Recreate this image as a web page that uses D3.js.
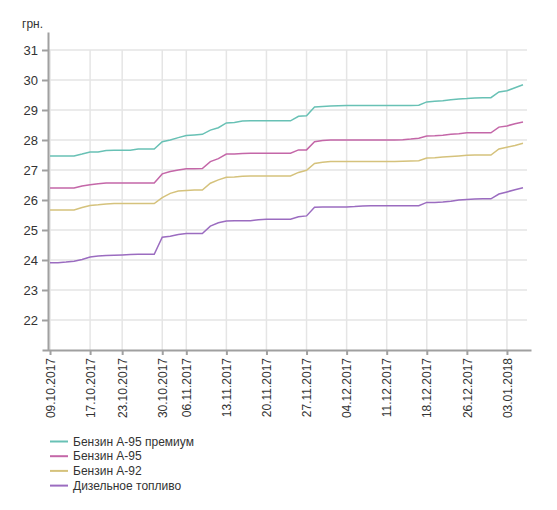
<!DOCTYPE html>
<html>
<head>
<meta charset="utf-8">
<script src="https://cdn.jsdelivr.net/npm/d3@7"></script>
<style>
  body { margin: 0; background: #fff; }
  text { font-family: "Liberation Sans", Arial, sans-serif; fill: #333; }
  .axis path, .axis line { stroke: #a0a0a0; stroke-width: 2; }
  .grid line { stroke: #e5e5e5; stroke-width: 1.5; }
  .line { fill: none; stroke-width: 1.5; }
</style>
</head>
<body>
<div id="chart"></div>
<script>
//data
var dates = ["09.10.2017","10.10.2017","11.10.2017","12.10.2017","13.10.2017","17.10.2017","18.10.2017","19.10.2017","20.10.2017",
  "23.10.2017","24.10.2017","25.10.2017","26.10.2017","27.10.2017","30.10.2017","31.10.2017","01.11.2017",
  "06.11.2017","07.11.2017","08.11.2017","09.11.2017","10.11.2017","13.11.2017","14.11.2017","15.11.2017","16.11.2017","17.11.2017",
  "20.11.2017","21.11.2017","22.11.2017","23.11.2017","24.11.2017","27.11.2017","28.11.2017","29.11.2017","30.11.2017","01.12.2017",
  "04.12.2017","05.12.2017","06.12.2017","07.12.2017","08.12.2017","11.12.2017","12.12.2017","13.12.2017","14.12.2017","15.12.2017",
  "18.12.2017","19.12.2017","20.12.2017","21.12.2017","22.12.2017","26.12.2017","27.12.2017","28.12.2017","29.12.2017",
  "02.01.2018","03.01.2018","04.01.2018","05.01.2018"];

var tickDates = ["09.10.2017","17.10.2017","23.10.2017","30.10.2017","06.11.2017","13.11.2017","20.11.2017",
  "27.11.2017","04.12.2017","11.12.2017","18.12.2017","26.12.2017","03.01.2018"];

var yTicks = [22, 23, 24, 25, 26, 27, 28, 29, 30, 31];

var a95premium = [27.47,27.47,27.47,27.47,27.53,27.6,27.6,27.65,27.66,27.66,27.66,27.7,27.7,27.7,
  27.94,28.0,28.08,28.15,28.17,28.19,28.33,28.41,28.57,28.58,28.63,
  28.64,28.64,28.64,28.64,28.64,28.64,
  28.79,28.81,29.1,29.12,29.13,29.14,
  29.15,29.15,29.15,29.15,29.15,29.15,29.15,29.15,29.15,
  29.16,29.27,29.29,29.31,29.34,29.37,29.38,29.4,29.41,29.41,29.6,29.64,29.74,29.84];

var a95 = [26.4,26.4,26.4,26.4,26.47,26.51,26.54,26.57,26.57,26.57,26.57,26.57,26.57,26.57,
  26.87,26.95,27.0,27.04,27.04,27.05,27.28,27.38,27.53,27.53,27.55,
  27.56,27.56,27.56,27.56,27.56,27.56,
  27.67,27.67,27.94,27.98,
  28.0,28.0,28.0,28.0,28.0,28.0,28.0,28.0,28.0,
  28.01,28.03,28.06,28.13,28.14,28.16,28.19,28.21,
  28.24,28.24,28.24,28.24,28.43,28.47,28.54,28.6];

var a92 = [25.67,25.67,25.67,25.67,25.75,25.82,25.84,25.87,25.88,25.88,25.88,25.88,25.88,25.88,
  26.08,26.22,26.3,26.32,26.33,26.33,26.56,26.67,26.76,26.77,26.79,
  26.8,26.8,26.8,26.8,26.8,26.8,
  26.92,26.99,27.22,27.26,
  27.28,27.28,27.28,27.28,27.28,27.28,27.28,27.28,27.28,
  27.29,27.3,27.31,27.4,27.41,27.43,27.45,27.47,27.49,
  27.5,27.5,27.5,27.7,27.76,27.82,27.89];

var diesel = [23.91,23.91,23.93,23.96,24.02,24.1,24.13,24.15,24.16,24.17,24.18,24.19,24.19,24.19,
  24.76,24.79,24.85,24.88,24.88,24.88,25.13,25.24,25.3,25.31,25.31,25.31,
  25.34,25.36,25.36,25.36,25.36,
  25.44,25.47,25.76,25.77,25.77,25.77,25.77,25.78,25.8,
  25.81,25.81,25.81,25.81,25.81,25.81,25.81,
  25.92,25.92,25.93,25.96,26.0,26.02,26.03,26.04,26.04,
  26.2,26.27,26.34,26.41];

var seriesNames = ["Бензин А-95 премиум", "Бензин А-95", "Бензин А-92", "Дизельное топливо"];
var seriesValues = [a95premium, a95, a92, diesel];
var colors = ["#68c1b5", "#c467a8", "#d5c27c", "#9b6cc0"];

var width = 557, height = 510;

var svg = d3.select("#chart").append("svg")
  .attr("width", width)
  .attr("height", height);

//scales
var xScale = d3.scalePoint()
  .domain(dates)
  .range([42, 531])
  .padding(1);

var yScale = d3.scaleLinear()
  .domain([21, 31.6])
  .range([350, 32]);

var plotLeft = 48, plotRight = 527;

//grid lines
var grid = svg.append("g").attr("class", "grid");

grid.selectAll(".hgrid")
  .data(yTicks)
.enter().append("line")
  .attr("x1", plotLeft)
  .attr("x2", plotRight)
  .attr("y1", function(d) { return yScale(d); })
  .attr("y2", function(d) { return yScale(d); });

grid.selectAll(".vgrid")
  .data(tickDates)
.enter().append("line")
  .attr("x1", function(d) { return xScale(d); })
  .attr("x2", function(d) { return xScale(d); })
  .attr("y1", yScale(31))
  .attr("y2", yScale(21));

//x axis
var xAxis = svg.append("g")
  .attr("class", "axis")
  .attr("transform", "translate(0," + yScale(21) + ")")
  .call(d3.axisBottom(xScale).tickValues(tickDates).tickSize(5).tickSizeOuter(0));

xAxis.selectAll("text")
  .style("font-size", "12px")
  .style("fill", "#333")
  .attr("transform", "rotate(-90)")
  .attr("text-anchor", "end")
  .attr("x", -8)
  .attr("y", 0)
  .attr("dy", "0.35em");

//y axis
var yAxis = svg.append("g")
  .attr("class", "axis")
  .attr("transform", "translate(" + plotLeft + ",0)")
  .call(d3.axisLeft(yScale).tickValues(yTicks).tickSize(6).tickSizeOuter(0).tickPadding(4));

yAxis.selectAll("text")
  .style("font-size", "13px")
  .style("fill", "#333");

// unit label
svg.append("text")
  .attr("x", 22)
  .attr("y", 28)
  .style("font-size", "12px")
  .text("грн.");

//lines
seriesValues.forEach(function(vals, k) {
  var line = d3.line()
    .x(function(d, i) { return xScale(dates[i]); })
    .y(function(d) { return yScale(d); });

  svg.append("path")
    .datum(vals)
    .attr("class", "line")
    .attr("stroke", colors[k])
    .attr("d", line);
});

//legend
var legend = svg.selectAll(".legend")
  .data(seriesNames)
.enter().append("g")
  .attr("class", "legend")
  .attr("transform", function(d, i) { return "translate(50," + (441.5 + i * 14.7) + ")"; });

legend.append("line")
  .attr("x1", 0)
  .attr("x2", 18)
  .attr("stroke-width", 2)
  .attr("stroke", function(d, i) { return colors[i]; });

legend.append("text")
  .attr("x", 23)
  .attr("dy", "0.35em")
  .style("font-size", "12px")
  .text(function(d) { return d; });
</script>
</body>
</html>
